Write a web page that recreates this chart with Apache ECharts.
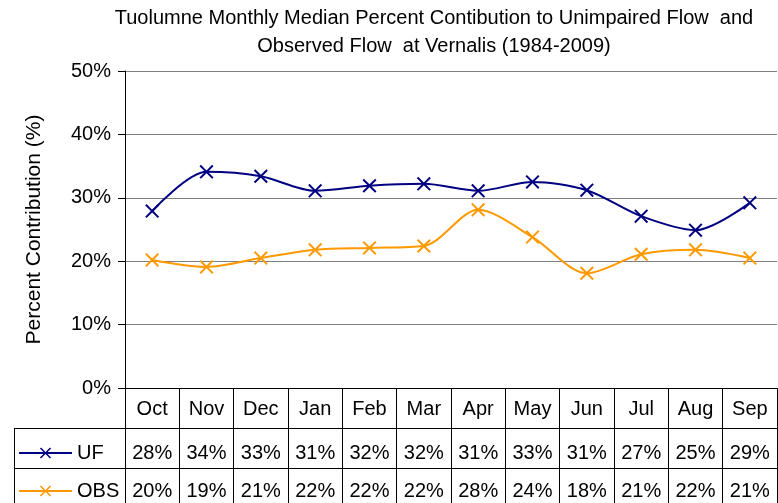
<!DOCTYPE html>
<html>
<head>
<meta charset="utf-8">
<script src="https://cdn.jsdelivr.net/npm/echarts@6/dist/echarts.min.js"></script>
<style>
  html, body { margin: 0; padding: 0; background: #fff; }
  #main { width: 778px; height: 503px; }
</style>
</head>
<body>
<div id="main"></div>
<script>
// months along the category axis
var months = ['Oct', 'Nov', 'Dec', 'Jan', 'Feb', 'Mar', 'Apr', 'May', 'Jun', 'Jul', 'Aug', 'Sep'];
// plotted values (percent)
var ufValues = [27.9, 34.1, 33.4, 31.1, 31.9, 32.2, 31.1, 32.5, 31.2, 27.1, 24.9, 29.2];
var obsValues = [20.2, 19.1, 20.5, 21.8, 22.1, 22.4, 28.1, 23.8, 18.1, 21.1, 21.8, 20.5];
// data table rows as printed
var ufTable = ['28%', '34%', '33%', '31%', '32%', '32%', '31%', '33%', '31%', '27%', '25%', '29%'];
var obsTable = ['20%', '19%', '21%', '22%', '22%', '22%', '28%', '24%', '18%', '21%', '22%', '21%'];

var font = '"Liberation Sans", Arial, sans-serif';
var xMark = 'path://M0,1L1,0L5,4L9,0L10,1L6,5L10,9L9,10L5,6L1,10L0,9L4,5Z';

var myChart = echarts.init(document.getElementById('main'));

function tableAxis(data, offset, margin) {
    return {
        type: 'category',
        data: data,
        position: 'bottom',
        offset: offset,
        boundaryGap: true,
        axisLine: { show: true, lineStyle: { color: '#000', width: 1 } },
        axisTick: { show: true, length: 40, interval: 0, lineStyle: { color: '#000' } },
        axisLabel: { interval: 0, margin: margin, color: '#000', fontSize: 20, fontFamily: font },
        splitLine: { show: false }
    };
}

var option = {
    backgroundColor: '#fff',
    animation: false,
    title: {
        text: 'Tuolumne Monthly Median Percent Contibution to Unimpaired Flow  and\nObserved Flow  at Vernalis (1984-2009)',
        left: 429,
        top: -1,
        textAlign: 'center',
        textStyle: { fontSize: 20, fontWeight: 'normal', fontFamily: font, color: '#000', lineHeight: 28 }
    },
    legend: [{
        data: ['UF'],
        left: 18,
        top: 443,
        padding: 0,
        itemWidth: 53,
        itemHeight: 14,
        textStyle: { fontSize: 20, fontFamily: font, color: '#000' }
    }, {
        data: ['OBS'],
        left: 18,
        top: 481,
        padding: 0,
        itemWidth: 53,
        itemHeight: 14,
        textStyle: { fontSize: 20, fontFamily: font, color: '#000' }
    }],
    grid: { left: 125, right: 1, top: 71, bottom: 115, containLabel: false },
    xAxis: [
        tableAxis(months, 0, 11),
        tableAxis(ufTable, 40, 15),
        tableAxis(obsTable, 80, 13)
    ],
    yAxis: {
        type: 'value',
        min: 0,
        max: 50,
        interval: 10,
        name: 'Percent Contribution (%)',
        nameLocation: 'middle',
        nameGap: 80,
        nameTextStyle: { fontSize: 21, fontFamily: font, color: '#000' },
        axisLine: { show: true, lineStyle: { color: '#000' } },
        axisTick: { show: true, length: 7, lineStyle: { color: '#000' } },
        axisLabel: { formatter: '{value}%', margin: 14, fontSize: 20, fontFamily: font, color: '#000' },
        splitLine: { show: true, lineStyle: { color: '#808080', width: 1 } }
    },
    series: [{
        name: 'UF',
        type: 'line',
        data: ufValues,
        smooth: 0.3,
        symbol: xMark,
        symbolSize: 14,
        color: '#000080',
        lineStyle: { width: 2, color: '#000080' },
        itemStyle: { color: '#000080' }
    }, {
        name: 'OBS',
        type: 'line',
        data: obsValues,
        smooth: 0.3,
        symbol: xMark,
        symbolSize: 14,
        color: '#FF9900',
        lineStyle: { width: 2, color: '#FF9900' },
        itemStyle: { color: '#FF9900' }
    }],
    graphic: [
        // left part of the data table (legend key cells)
        { type: 'line', shape: { x1: 14, y1: 428.5, x2: 125, y2: 428.5 }, style: { stroke: '#000', lineWidth: 1 } },
        { type: 'line', shape: { x1: 14, y1: 468.5, x2: 125, y2: 468.5 }, style: { stroke: '#000', lineWidth: 1 } },
        { type: 'line', shape: { x1: 14.5, y1: 428, x2: 14.5, y2: 503 }, style: { stroke: '#000', lineWidth: 1 } }
    ]
};
myChart.setOption(option);
</script>
</body>
</html>
